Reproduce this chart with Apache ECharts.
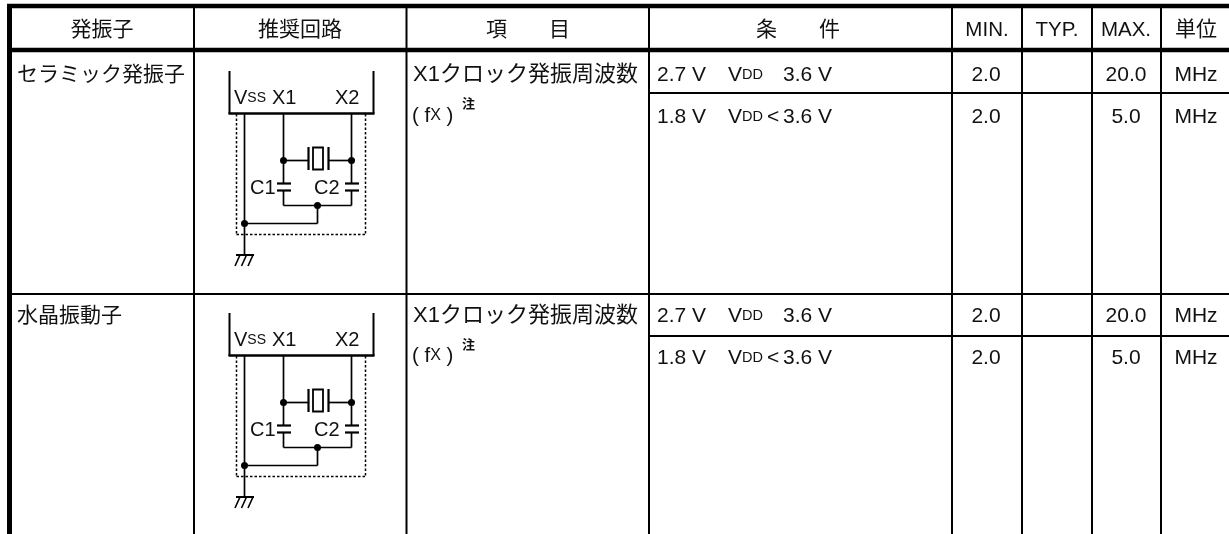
<!DOCTYPE html>
<html>
<head>
<meta charset="utf-8">
<title>X1 oscillator</title>
<style>
	html,body{margin:0;padding:0;background:#fff;}
	#main{width:1229px;height:534px;}
</style>
</head>
<body>
<div id="main"></div>
<script src="https://cdn.jsdelivr.net/npm/echarts@6/dist/echarts.min.js"></script>
<script>
//table contents
var headers = ["発振子","推奨回路","項　　目","条　　件","MIN.","TYP.","MAX.","単位"];
var oscillators = ["セラミック発振子","水晶振動子"];
var itemName = "X1クロック発振周波数";
var condFrom = ["2.7 V","1.8 V"];
var condOp = ["","<"];
var condTo = ["3.6 V","3.6 V"];
var minValues = ["2.0","2.0"];
var maxValues = ["20.0","5.0"];
var unitName = "MHz";

var FONT = '"Liberation Sans","Noto Sans CJK JP",sans-serif';
var INK = "#111";
var WIRE = 1.7;
var els = [];

function line(x1,y1,x2,y2,w,dash){
	els.push({type:"line",silent:true,shape:{x1:x1,y1:y1,x2:x2,y2:y2},
		style:{stroke:"#000",lineWidth:w,lineDash:dash||null}});
}
function dot(x,y){
	els.push({type:"circle",silent:true,shape:{cx:x,cy:y,r:3.5},style:{fill:"#000"}});
}
function text(str,x,y,align,size,rich,weight){
	els.push({type:"text",silent:true,x:x,y:y,style:{text:str,fill:INK,
		fontFamily:FONT,fontSize:size,fontWeight:weight||"normal",
		align:align,verticalAlign:"middle",rich:rich||null}});
}
//big letter followed by small letters: Vss, Vdd, fx
function subRich(size,small){
	return {
		a:{fontSize:size,fontFamily:FONT,fill:INK,height:size,verticalAlign:"bottom"},
		b:{fontSize:small,fontFamily:FONT,fill:INK,height:size,verticalAlign:"bottom"}
	};
}

//the circuit, dy moves it down to the second block
function circuit(dy){
	var xL=229.5,xR=373.5,xV=244.5,x1=283.5,x2=351.5,xM=317.5;
	line(xL,71+dy,xL,114+dy,2);
	line(xR,71+dy,xR,114+dy,2);
	line(xL-1,113.5+dy,xR+1,113.5+dy,2.6);
	//dashed box
	line(236.5,114+dy,236.5,234.5+dy,1.5,[2.5,2]);
	line(365.5,114+dy,365.5,234.5+dy,1.5,[2.5,2]);
	line(236.5,234.5+dy,365.5,234.5+dy,1.5,[2.5,2]);
	//wires
	line(xV,114+dy,xV,255+dy,WIRE);
	line(x1,114+dy,x1,183.5+dy,WIRE);
	line(x2,114+dy,x2,183.5+dy,WIRE);
	line(x1,190.5+dy,x1,205.5+dy,WIRE);
	line(x2,190.5+dy,x2,205.5+dy,WIRE);
	line(x1,205.5+dy,x2,205.5+dy,WIRE);
	line(xM,205.5+dy,xM,223.5+dy,WIRE);
	line(xV,223.5+dy,xM,223.5+dy,WIRE);
	//crystal
	line(x1,160.5+dy,308,160.5+dy,WIRE);
	line(329,160.5+dy,x2,160.5+dy,WIRE);
	line(308.5,147+dy,308.5,170+dy,2.2);
	line(328.5,147+dy,328.5,170+dy,2.2);
	els.push({type:"rect",silent:true,shape:{x:313,y:147.5+dy,width:10,height:22},
		style:{fill:"#fff",stroke:"#000",lineWidth:1.8}});
	//capacitors
	line(277,183.5+dy,291,183.5+dy,2.2);
	line(277,190.5+dy,291,190.5+dy,2.2);
	line(345,183.5+dy,359,183.5+dy,2.2);
	line(345,190.5+dy,359,190.5+dy,2.2);
	dot(x1,160.5+dy);dot(x2,160.5+dy);dot(xM,205.5+dy);dot(xV,223.5+dy);
	//ground
	line(236,255+dy,254,255+dy,2);
	line(240,255+dy,235,266+dy,1.6);
	line(246.5,255+dy,241.5,266+dy,1.6);
	line(253,255+dy,248,266+dy,1.6);
	//labels
	text("{a|V}{b|SS}",234,98+dy,"left",20,subRich(20,14));
	text("X1",272,98+dy,"left",20);
	text("X2",335,98+dy,"left",20);
	text("C1",250,188+dy,"left",20);
	text("C2",314,188+dy,"left",20);
}

//rules
var colX = [194,406.5,649,952,1022,1092,1161];
var colCenter = [102,300,528,798,987,1057,1126,1196];
line(7,6,1229,6,4.4);
line(7,50,1229,50,4.4);
line(9.5,4,9.5,534,5);
colX.forEach(function(x){line(x,6,x,534,2);});
line(7,294,1229,294,2);
line(649,93,1229,93,2);
line(649,336,1229,336,2);

headers.forEach(function(h,i){
	text(h,colCenter[i],30,"center",i>=4&&i<=6?20.5:21);
});

//two blocks of rows
var blockY = [75,316];
var fxY = [116,356];
var noteY = [104,345];
oscillators.forEach(function(name,b){
	var y0 = blockY[b];
	text(name,17,y0,"left",21);
	text(itemName,413,y0,"left",22);
	text("( {a|f}{b|X} )",412,fxY[b],"left",20.5,subRich(20.5,16));
	text("注",462,noteY[b],"left",13,null,"bold");
	circuit(b*242);
	for(var r=0;r<2;r++){
		var y = y0+r*42;
		text(condFrom[r],657,y,"left",21);
		text("{a|V}{b|DD}",728,y,"left",21,subRich(21,14.5));
		if(condOp[r]) text(condOp[r],767,y,"left",21);
		text(condTo[r],783,y,"left",21);
		text(minValues[r],colCenter[4]-1,y,"center",21);
		text(maxValues[r],colCenter[6],y,"center",21);
		text(unitName,colCenter[7],y,"center",21);
	}
});

var myChart = echarts.init(document.getElementById("main"),null,{renderer:"canvas"});
myChart.setOption({
	animation:false,
	backgroundColor:"#fff",
	graphic:{elements:els}
});
</script>
</body>
</html>
